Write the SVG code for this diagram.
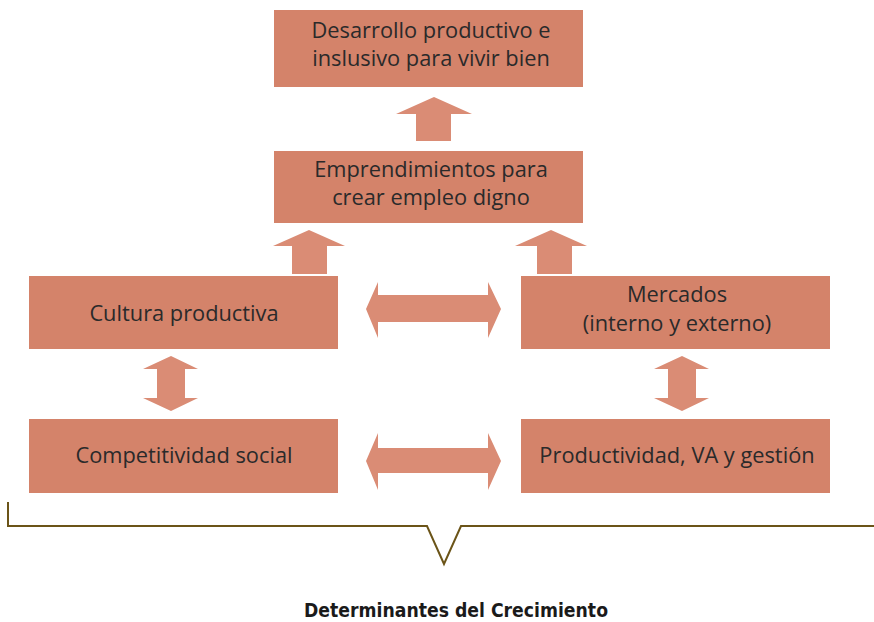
<svg xmlns="http://www.w3.org/2000/svg" width="874" height="622" viewBox="0 0 874 622">
<style>
.box{fill:#d4836a}
.arr{fill:#da8c75}
.t{font-family:"Open Sans","Noto Sans","Liberation Sans",sans-serif;font-size:21.8px;fill:#2a2a2a;text-anchor:middle}
.br{fill:none;stroke:#6b5418;stroke-width:2}
.cap{font-family:"Liberation Sans Narrow","DejaVu Sans Condensed","Liberation Sans",sans-serif;font-weight:bold;font-size:19px;fill:#1a1a1a;text-anchor:middle}
</style>
<rect width="874" height="622" fill="#ffffff"/>
<g id="connectors">
<path class="arr" d="M434,97 L472,114 L451,114 L451,141 L416,141 L416,114 L396,114 Z"/>
<path class="arr" d="M309,230 L345,246 L327,246 L327,274 L292,274 L292,246 L273,246 Z"/>
<path class="arr" d="M551,230 L587,246 L572,246 L572,274 L537,274 L537,246 L515,246 Z"/>
<path class="arr" d="M366,309 L378,282 L378,295 L488,295 L488,282 L501,309 L488,338 L488,322 L378,322 L378,338 Z"/>
<path class="arr" d="M366,461 L378,433 L378,448 L488,448 L488,433 L501,461 L488,490 L488,473 L378,473 L378,490 Z"/>
<path class="arr" d="M171,356 L198,369 L185,369 L185,398 L198,398 L171,411 L143,398 L157,398 L157,369 L143,369 Z"/>
<path class="arr" d="M682,356 L709,369 L696,369 L696,398 L709,398 L682,411 L654,398 L668,398 L668,369 L654,369 Z"/>
</g>
<g id="n1"><rect class="box" x="274" y="10" width="309" height="77"/>
<text class="t" x="431" y="38">Desarrollo productivo e</text>
<text class="t" x="431" y="66">inslusivo para vivir bien</text></g>
<g id="n2"><rect class="box" x="274" y="151" width="309" height="72"/>
<text class="t" x="431" y="177">Emprendimientos para</text>
<text class="t" x="431" y="205">crear empleo digno</text></g>
<g id="n3"><rect class="box" x="29" y="276" width="309" height="73"/>
<text class="t" x="184" y="321">Cultura productiva</text></g>
<g id="n4"><rect class="box" x="521" y="276" width="309" height="73"/>
<text class="t" x="677" y="302">Mercados</text>
<text class="t" x="677" y="331">(interno y externo)</text></g>
<g id="n5"><rect class="box" x="29" y="419" width="309" height="74"/>
<text class="t" x="184" y="463">Competitividad social</text></g>
<g id="n6"><rect class="box" x="521" y="419" width="309" height="74"/>
<text class="t" x="677" y="463">Productividad, VA y gestión</text></g>
<g id="bracket">
<path class="br" d="M8,502 L8,526 L427,526 L444,564 L461,526 L874,526"/>
<text class="cap" x="456" y="617" textLength="304" lengthAdjust="spacingAndGlyphs">Determinantes del Crecimiento</text>
</g>
</svg>
